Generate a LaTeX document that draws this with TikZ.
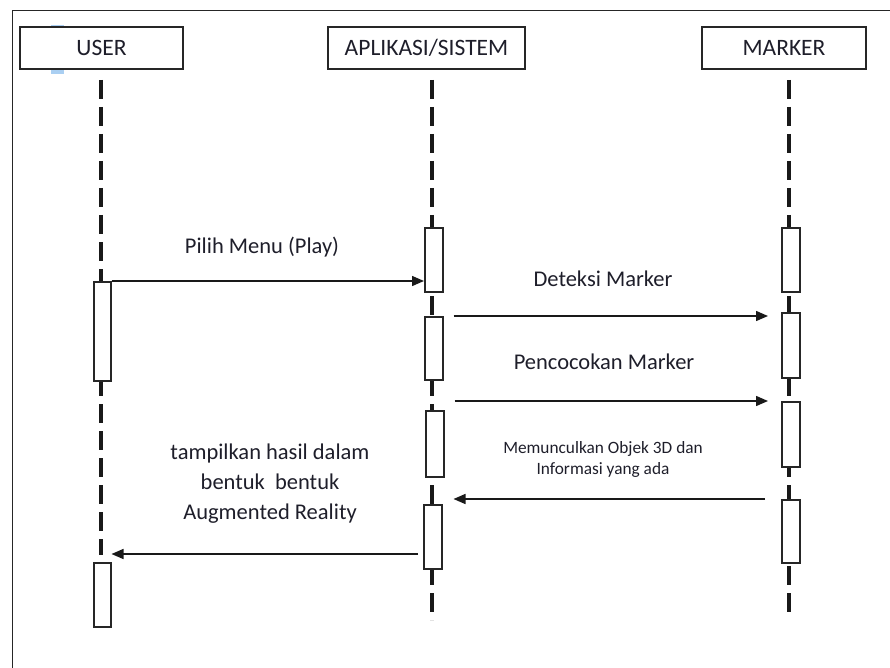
\documentclass[tikz,border=0pt]{standalone}
\usepackage{fontspec}
\setmainfont{Carlito}
\usetikzlibrary{arrows.meta}
\definecolor{txt}{HTML}{1E1E2A}
\definecolor{selblue}{HTML}{AACFF2}
\tikzset{
  head/.style={draw=black!85, line width=1.6pt, fill=white, minimum width=163pt, minimum height=42pt, inner sep=0pt, font=\fontsize{23.5}{28}\selectfont, text=txt},
  act/.style={draw=black!85, line width=1.5pt, fill=white, inner sep=0pt, anchor=north west},
  life/.style={line width=3.5pt, black!90, dash pattern=on 19pt off 8pt},
  msg/.style={line width=1.4pt, black!90, -{Triangle[length=12pt,width=10pt]}},
  lbl/.style={font=\fontsize{22.5}{30}\selectfont, text=txt, align=center, inner sep=0pt},
  slbl/.style={font=\fontsize{17.3}{21}\selectfont, text=txt, align=center, inner sep=0pt}
}
\begin{document}
\begin{tikzpicture}[x=1pt,y=-1pt]
\useasboundingbox (0,0) rectangle (890,668);
% frame
\draw[line width=1.5pt, black!85] (12.5,668) -- (12.5,10.5) -- (890,10.5);
% selection mark
\fill[selblue] (51,25) rectangle (64,74);
% heads
\node[head] (user) at (101.5,48) {USER};
\node[head, minimum width=197pt] (app) at (426.5,48) {APLIKASI/SISTEM};
\node[head, minimum width=164pt] (mark) at (784,48) {MARKER};
% lifeline ends
\coordinate (uTop) at (101,80);
\coordinate (uBot) at (101,555);
\coordinate (aTop) at (432,80);
\coordinate (aBot) at (432,620);
\coordinate (mTop) at (789,80);
\coordinate (mBot) at (789,614);
\draw[life] (uTop) -- (uBot);
\draw[life] (aTop) -- (aBot);
\draw[life] (mTop) -- (mBot);
% activations
\node[act, minimum width=17pt, minimum height=99pt] (u1) at (93,281) {};
\node[act, minimum width=17pt, minimum height=64pt] (u2) at (93,562) {};
\node[act, minimum width=18pt, minimum height=64pt] (a1) at (424,227) {};
\node[act, minimum width=18pt, minimum height=63pt] (a2) at (424,316) {};
\node[act, minimum width=18pt, minimum height=66pt] (a3) at (425,410) {};
\node[act, minimum width=18pt, minimum height=64pt] (a4) at (423,504) {};
\node[act, minimum width=18pt, minimum height=64pt] (m1) at (781,227) {};
\node[act, minimum width=18pt, minimum height=65pt] (m2) at (781,312) {};
\node[act, minimum width=18pt, minimum height=65pt] (m3) at (781,401) {};
\node[act, minimum width=18pt, minimum height=63pt] (m4) at (781,499) {};
% messages
\coordinate (y2) at (0,316);
\coordinate (y5) at (0,554);
\draw[msg] (u1.north east) -- (u1.north east -| a1.west);
\draw[msg] ([xshift=10pt]a2.north east) -- ([xshift=-13pt]y2 -| m2.west);
\draw[msg] ([xshift=10pt]m3.north west -| a3.east) -- ([xshift=-13pt]m3.north west);
\draw[msg] ([xshift=-16pt]m4.north west) -- ([xshift=11pt]m4.north west -| a4.east);
\draw[msg] ([xshift=-5pt]y5 -| a4.west) -- (y5 -| u2.east);
% labels
\node[lbl] (l1) at (262,247) {Pilih Menu (Play)};
\node[lbl] (l2) at (603,279) {Deteksi Marker};
\node[lbl] (l3) at (604,362) {Pencocokan Marker};
\node[slbl] (l4) at (603,459) {Memunculkan Objek 3D dan\\Informasi yang ada};
\node[lbl] (l5) at (270,484) {tampilkan hasil dalam\\bentuk\ \ bentuk\\Augmented Reality};
\end{tikzpicture}
\end{document}
